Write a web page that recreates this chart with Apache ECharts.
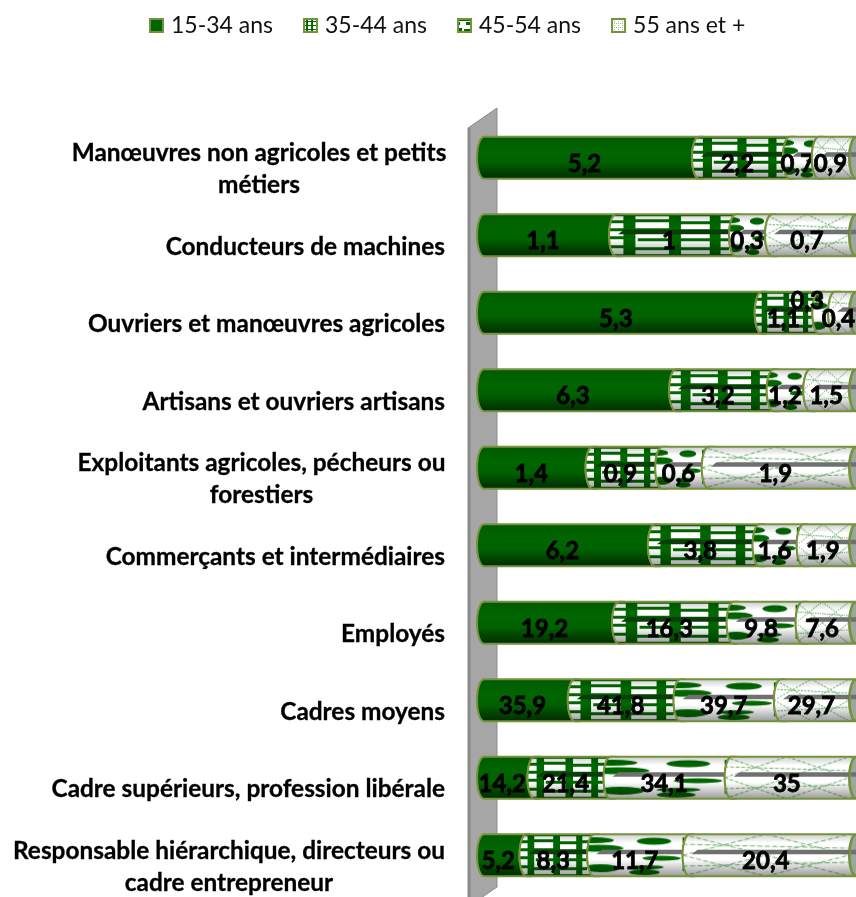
<!DOCTYPE html>
<html><head><meta charset="utf-8">
<style>html,body{margin:0;padding:0;background:#fff}#c{width:856px;height:897px}</style>
<script src="https://cdn.jsdelivr.net/npm/echarts@6/dist/echarts.min.js"></script>
</head><body><div id="c"></div>
<script>
const categories = [
  "Manœuvres non agricoles et petits\nmétiers",
  "Conducteurs de machines",
  "Ouvriers et manœuvres agricoles",
  "Artisans et ouvriers artisans",
  "Exploitants agricoles, pécheurs ou\nforestiers",
  "Commerçants et intermédiaires",
  "Employés",
  "Cadres moyens",
  "Cadre supérieurs, profession libérale",
  "Responsable hiérarchique, directeurs ou\ncadre entrepreneur"
];
const age1534 = [5.2, 1.1, 5.3, 6.3, 1.4, 6.2, 19.2, 35.9, 14.2, 5.2];
const age3544 = [2.2, 1, 1.1, 3.2, 0.9, 3.8, 16.3, 41.8, 21.4, 8.3];
const age4554 = [0.7, 0.3, 0.3, 1.2, 0.6, 1.6, 9.8, 39.7, 34.1, 11.7];
const age55 = [0.9, 0.7, 0.4, 1.5, 1.9, 1.9, 7.6, 29.7, 35, 20.4];
const seriesNames = ["15-34 ans", "35-44 ans", "45-54 ans", "55 ans et +"];
const allValues = [age1534, age3544, age4554, age55];

const GREEN = '#006600', EDGE = '#76923c';
function tile(w, h, draw) {
  const c = document.createElement('canvas'); c.width = w; c.height = h;
  const g = c.getContext('2d'); g.fillStyle = '#fff'; g.fillRect(0, 0, w, h);
  g.fillStyle = GREEN; g.strokeStyle = GREEN; draw(g); return c;
}
const tileBands = tile(100, 42, g => {
  [[12, 10], [50, 10], [84, 9]].forEach(b => g.fillRect(b[0], 0, b[1], 42));
  [[0, 0, 100, 2], [0, 6, 14, 3], [22, 5, 28, 3], [60, 7, 24, 3], [0, 14, 14, 3], [22, 14, 28, 4], [60, 15, 24, 3],
   [0, 22, 14, 3], [24, 24, 26, 3], [60, 24, 24, 3], [0, 31, 14, 3], [22, 33, 28, 3], [60, 33, 24, 3], [0, 40, 100, 2],
   [93, 6, 7, 3], [93, 15, 7, 3], [93, 24, 7, 3], [93, 33, 7, 3]].forEach(r => g.fillRect(r[0], r[1], r[2], r[3]));
});
const tileBlobs = tile(100, 42, g => {
  [[8, 6, 20, 3], [12, 14, 26, 3.5], [70, 7, 18, 3.5], [14, 34, 20, 4], [60, 38, 16, 3], [78, 24, 20, 2.5], [62, 33, 18, 2]].forEach(e => {
    g.beginPath(); g.ellipse(e[0], e[1], e[2], e[3], 0, 0, Math.PI * 2); g.fill();
  });
});
const tileHatch = tile(100, 42, g => {
  g.strokeStyle = '#3f9a3f'; g.lineWidth = 0.8; g.setLineDash([3, 1.5]);
  [[0, 0, 50, 21], [50, 21, 100, 42], [50, 0, 100, 21], [0, 21, 50, 42], [0, 21, 50, 0], [50, 42, 100, 21], [50, 21, 100, 0], [0, 42, 50, 21],
   [0, 10, 100, 14], [0, 32, 100, 28]].forEach(l => {
    g.beginPath(); g.moveTo(l[0], l[1]); g.lineTo(l[2], l[3]); g.stroke();
  });
});
const tiles = [null, tileBands, tileBlobs, tileHatch];
const legendColors = [GREEN,
  { image: tile(12, 12, g => { [2, 7].forEach(x => g.fillRect(x, 0, 2, 12)); [2, 6, 10].forEach(y => g.fillRect(0, y, 12, 1)); }), repeat: 'repeat' },
  { image: tile(12, 12, g => { g.fillRect(0, 0, 12, 2); g.fillRect(0, 9, 4, 3); g.fillRect(8, 3, 4, 3); g.fillRect(0, 3, 2, 3); g.fillRect(6, 10, 6, 2); }), repeat: 'repeat' },
  { image: tile(4, 4, g => { g.fillStyle = '#8fc08f'; g.fillRect(0, 0, 1, 1); g.fillRect(2, 2, 1, 1); g.fillRect(2, 0, 1, 1); }), repeat: 'repeat' }];

function makeData(si) {
  return categories.map((_, i) => {
    const total = allValues.reduce((s, a) => s + a[i], 0);
    let before = 0;
    for (let k = 0; k < si; k++) before += allValues[k][i];
    return [i, before / total * 100, (before + allValues[si][i]) / total * 100, allValues[si][i]];
  });
}

const EW = 7; // half-width of the cylinder's elliptical cross-section
function segPoints(x0, x1, t, b) {
  const pts = [], n = 14;
  for (let i = 0; i <= n; i++) { const a = -Math.PI / 2 + Math.PI * i / n; pts.push([x0 + EW - EW * Math.cos(a), (t + b) / 2 + (b - t) / 2 * Math.sin(a)]); }
  for (let i = n; i >= 0; i--) { const a = -Math.PI / 2 + Math.PI * i / n; pts.push([x1 + EW - EW * Math.cos(a), (t + b) / 2 + (b - t) / 2 * Math.sin(a)]); }
  return pts;
}
function renderSeg(si) {
  return function (params, api) {
    const cy = api.coord([0, api.value(0)])[1];
    const x0 = api.coord([api.value(1), 0])[0], x1 = api.coord([api.value(2), 0])[0];
    const t = cy - 21, b = cy + 21, w = x1 - x0;
    const raw = api.value(3), kids = [];
    const pts = segPoints(x0, x1, t, b);
    const fill = si === 0 ? GREEN
      : { image: tiles[si], repeat: 'repeat', x: x0, y: t, scaleX: Math.max(w, 40) / 100, scaleY: 1 };
    kids.push({ type: 'polygon', shape: { points: pts }, style: { fill: fill } });
    kids.push({ type: 'polygon', shape: { points: pts }, style: {
      fill: { type: 'linear', x: 0, y: 0, x2: 0, y2: 1, colorStops: si === 0
        ? [{ offset: 0, color: 'rgba(0,0,0,0.12)' }, { offset: 0.35, color: 'rgba(0,0,0,0)' }, { offset: 0.6, color: 'rgba(0,0,0,0.05)' }, { offset: 1, color: 'rgba(0,0,0,0.6)' }]
        : [{ offset: 0, color: 'rgba(0,0,0,0.22)' }, { offset: 0.22, color: 'rgba(0,0,0,0)' }, { offset: 0.6, color: 'rgba(0,0,0,0)' }, { offset: 1, color: 'rgba(0,0,0,0.42)' }] },
      stroke: EDGE, lineWidth: 2 } });
    if (si > 0) {
      const lx0 = x0 + 9, lx1 = x1 + (si === 3 ? EW : 1);
      kids.push({ type: 'polygon', shape: { points: [[lx0, cy - 1], [lx0 + 6, cy - 5.5], [lx1, cy - 5.5], [lx1, cy - 1]] },
        style: { fill: si === 1 ? '#0a3d0a' : '#707070' } });
    }
    if (si === 3) {
      kids.push({ type: 'ellipse', shape: { cx: x1 + EW, cy: cy, rx: 6, ry: 20 }, style: { fill: '#9aa79a', stroke: EDGE, lineWidth: 1.4 } });
      kids.push({ type: 'rect', shape: { x: x1 + 2, y: cy - 5.5, width: 12, height: 4.5 }, style: { fill: '#707070' } });
    }
    const moved = params.dataIndex === 2 && si === 2;
    kids.push({ type: 'text', z2: 50, style: {
      text: String(raw).replace('.', ','), x: (x0 + x1) / 2 + (moved ? -13 : 0), y: cy + (moved ? -11 : 6.5),
      align: 'center', verticalAlign: 'middle', font: 'bold 24px Lato', fill: '#000', stroke: '#000', lineWidth: 0.8 } });
    return { type: 'group', children: kids };
  };
}

const labelStyle = { fontFamily: 'Lato', fontWeight: 'bold', fontSize: 24.4, lineHeight: 32, color: '#000', textBorderColor: '#000', textBorderWidth: 0.3 };
const rich = {
  w0: Object.assign({ width: 372, align: 'center' }, labelStyle),
  w4: Object.assign({ width: 367, align: 'center' }, labelStyle),
  w9: Object.assign({ width: 432, align: 'center' }, labelStyle)
};

const chart = echarts.init(document.getElementById('c'), null, { renderer: 'canvas' });
chart.setOption({
  animation: false,
  backgroundColor: '#fff',
  legend: {
    top: 9, left: 144, itemGap: 30, itemWidth: 13, itemHeight: 13, icon: 'rect',
    textStyle: { fontFamily: 'Lato', fontSize: 23, color: '#111', padding: [0, 0, 0, 3] },
    data: seriesNames
  },
  grid: { left: 477, width: 372, top: 119, height: 775, outerBoundsMode: 'none' },
  xAxis: { type: 'value', min: 0, max: 100, show: false },
  yAxis: {
    type: 'category', inverse: true, data: categories,
    axisLine: { show: false }, axisTick: { show: false }, splitLine: { show: false },
    axisLabel: Object.assign({
      margin: 32, interval: 0, padding: [23, 0, 0, 0], rich: rich,
      formatter: function (v, i) {
        if (v.indexOf('\n') < 0) return v;
        return v.split('\n').map(l => '{w' + i + '|' + l + '}').join('\n');
      }
    }, labelStyle)
  },
  graphic: [
    { type: 'polygon', z: 0, silent: true, shape: { points: [[468, 128], [497, 108], [497, 887], [468, 907]] },
      style: { fill: '#a6a6a6', stroke: '#8c8c8c', lineWidth: 1 } },
    { type: 'rect', z: 0, silent: true, shape: { x: 468, y: 128, width: 2.5, height: 780 }, style: { fill: '#8a8a8a' } }
  ],
  series: seriesNames.map((name, si) => ({
    name: name, type: 'custom', coordinateSystem: 'cartesian2d', z: 5 + si, clip: false,
    encode: { x: [1, 2], y: 0 },
    itemStyle: { color: legendColors[si], borderColor: EDGE, borderWidth: 1 },
    renderItem: renderSeg(si), data: makeData(si)
  }))
});
</script></body></html>
